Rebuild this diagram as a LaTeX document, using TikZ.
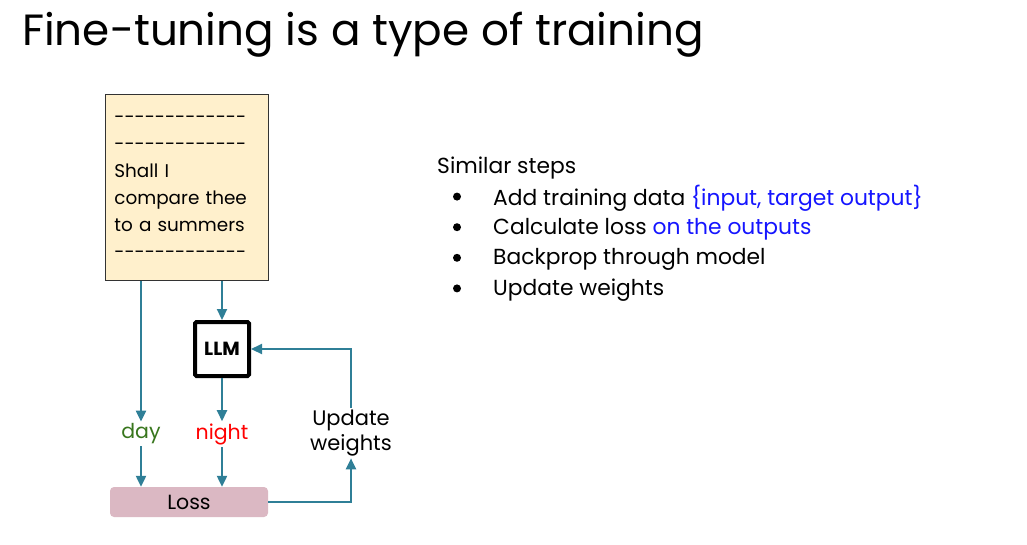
\documentclass[tikz,border=0pt]{standalone}
\usepackage{fontspec}
\setmainfont{Poppins}
\usetikzlibrary{arrows.meta,positioning}
\definecolor{flowteal}{HTML}{2F7F97}
\definecolor{docfill}{HTML}{FFF0CC}
\definecolor{lossfill}{HTML}{DBB8C3}
\definecolor{daygreen}{HTML}{38761D}
\definecolor{hiblue}{HTML}{1515FF}
\newcommand{\dashrow}{\foreach \k in {1,...,13}{-\kern0pt}}

\begin{document}
\begin{tikzpicture}[
   x=1pt, y=-1pt,
   >={Triangle[length=11pt,width=10pt]},
   doc/.style={draw=black!80,fill=docfill,line width=0.8pt,anchor=north west,
               minimum width=163pt,minimum height=186pt,text width=145pt,
               inner xsep=9pt,align=left,font=\fontsize{18.4}{27}\selectfont},
   model/.style={draw,line width=4pt,rounded corners=1.5pt,minimum size=54pt,
                 font=\fontsize{19}{22}\selectfont\bfseries},
   word/.style={font=\fontsize{20.5}{25}\selectfont,inner sep=2pt},
   lossbox/.style={fill=lossfill,rounded corners=4pt,minimum width=158pt,
                   minimum height=30pt,font=\fontsize{20.5}{24}\selectfont},
   steptext/.style={anchor=west,inner sep=0pt,font=\fontsize{21.8}{26}\selectfont},
   dot/.style={circle,fill,inner sep=0pt,minimum size=8pt},
   flow/.style={->,draw=flowteal,line width=2.2pt},
   ]
\useasboundingbox (0,0) rectangle (1027,544);
%% title
\node[anchor=west,inner sep=0pt,font=\fontsize{43.7}{50}\selectfont] (title) at (22,35)
   {Fine-tuning is a type of training};
%% input document and model
\node[doc] (doc) at (105,94)
   {\dashrow\\ \dashrow\\ Shall I\\ compare thee\\ to a summers\\ \dashrow};
\node[model] (llm) at (222,349) {LLM};
%% outputs and loss
\node[word,text=daygreen] (day) at (141,434) {day};
\node[word,text=red] (night) at (222,434) {night};
\node[lossbox] (loss) at (189,502) {Loss};
\node[word,align=center,font=\fontsize{21}{25}\selectfont] (upd) at (351,433) {Update\\weights};
%% arrows
\draw[flow] (doc.south -| day) -- (day.north);
\draw[flow] (doc.south -| llm) -- (llm.north);
\draw[flow] (llm.south) -- (night.north);
\draw[flow] (day.south) -- (day.south |- loss.north);
\draw[flow] (night.south) -- (night.south |- loss.north);
\draw[flow] (loss.east) -| (upd.south);
\draw[flow] (upd.north) |- (llm.east);
%% steps on the right
\node[steptext] (steps) at (437,168) {Similar steps};
\foreach \i/\t [count=\n] in {%
   {Add training data \textcolor{hiblue}{\{input, target output\}}},
   {Calculate loss \textcolor{hiblue}{on the outputs}},
   {Backprop through model},
   {Update weights}} {
   \node[steptext] (s\n) at (493,168+30.6*\n) {\i};
   \node[dot] (b\n) at (457,166+30.6*\n) {};
}
\end{tikzpicture}
\end{document}
